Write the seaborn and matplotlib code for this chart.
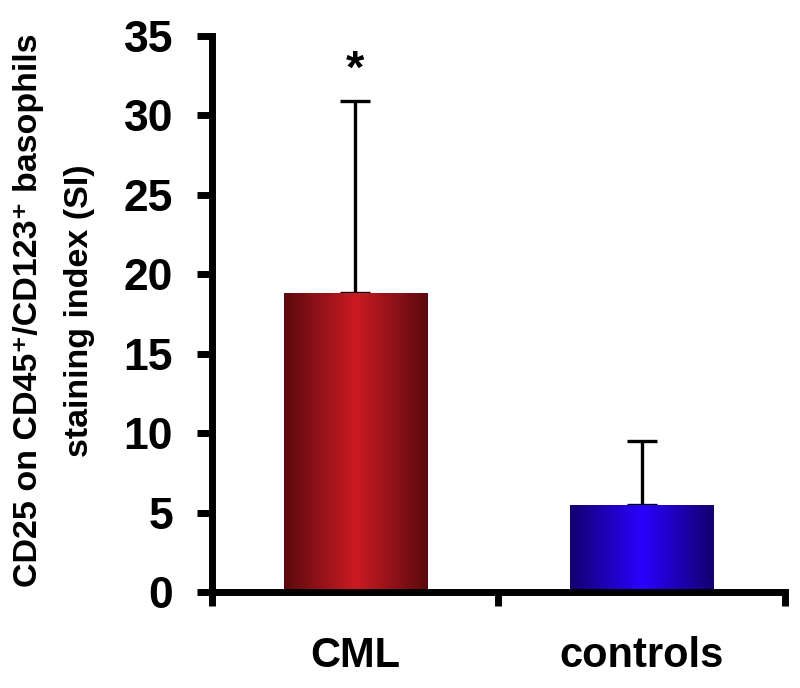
import numpy as np
import pandas as pd
import matplotlib
matplotlib.use('Agg')
import matplotlib.pyplot as plt
import seaborn as sns
from matplotlib.colors import LinearSegmentedColormap

# data
groups = ['CML', 'controls']
mean_si = [18.8, 5.5]
sd_si = [12.1, 4.0]
edge_colors = ['#5a0a0e', '#13006e']
mid_colors = ['#cc1a22', '#2b00ff']
ylabel_lines = ['CD25 on CD45\u207a/CD123\u207a basophils', 'staining index (SI)']

sns.set_style('white')
plt.rcParams['font.family'] = ['Liberation Sans', 'DejaVu Sans']
plt.rcParams['font.weight'] = 'bold'
plt.rcParams['text.color'] = 'black'
plt.rcParams['axes.labelcolor'] = 'black'
plt.rcParams['ytick.color'] = 'black'
plt.rcParams['xtick.color'] = 'black'

df = pd.DataFrame({'group': groups, 'si': mean_si})

fig = plt.figure(figsize=(8, 6.88), dpi=100)
ax = fig.add_axes([0.265, 0.1395, 0.716, 0.8085])

sns.barplot(data=df, x='group', y='si', ax=ax, width=0.5, color='white',
            edgecolor='none', errorbar=None)

# gradient fill on each bar, dark edges -> bright middle
grad = np.abs(np.linspace(-1, 1, 256))[None, :]
for patch, c0, c1 in zip(ax.patches, edge_colors, mid_colors):
    x0, y0 = patch.get_x(), patch.get_y()
    w, h = patch.get_width(), patch.get_height()
    cmap = LinearSegmentedColormap.from_list('g', [c1, c0])
    im = ax.imshow(grad, extent=[x0, x0 + w, y0, y0 + h], cmap=cmap,
                   aspect='auto', zorder=2, vmin=0, vmax=1)
    im.set_clip_path(patch)

# upper error bars only
ax.errorbar(range(len(groups)), mean_si, yerr=[np.zeros(len(sd_si)), sd_si],
            fmt='none', ecolor='black', elinewidth=2.4, capsize=11, capthick=2.4,
            zorder=1)

ax.text(0, 32.8, '*', ha='center', va='center', fontsize=34, fontweight='bold')

ax.set_xlim(-0.5, 1.5)
ax.set_ylim(0, 35)
ax.set_yticks(range(0, 36, 5))
ax.set_yticklabels([str(v) for v in range(0, 36, 5)], fontsize=32, fontweight='bold')
ax.set_xticks([-0.5, 0.5, 1.5])
ax.set_xticklabels([])
for i, g in enumerate(groups):
    ax.text(i, -4.0, g, ha='center', va='center', fontsize=30, fontweight='bold')

ax.set_xlabel('')
ax.set_ylabel('')
# two-line y label placed by hand, as in the original
fig.text(0.036, 0.549, ylabel_lines[0], rotation=90, ha='center', va='center',
         fontsize=24.5, fontweight='bold')
fig.text(0.1, 0.549, ylabel_lines[1], rotation=90, ha='center', va='center',
         fontsize=24.5, fontweight='bold')

sns.despine(ax=ax)
for s in ['left', 'bottom']:
    ax.spines[s].set_linewidth(5)
    ax.spines[s].set_color('black')
ax.tick_params(axis='y', direction='out', length=11, width=5, pad=17, left=True)
ax.tick_params(axis='x', direction='out', length=10, width=5, bottom=True)

fig.savefig('out.png', dpi=100)
